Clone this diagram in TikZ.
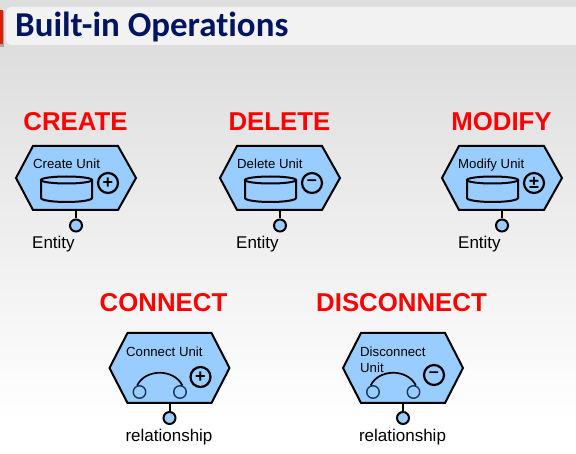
\documentclass[tikz,border=0pt]{standalone}
\usepackage{fontspec}
\setmainfont{Liberation Sans}
\newfontfamily\titlefont[Ligatures=NoCommon]{Carlito}
\definecolor{unitblue}{HTML}{99CCFF}
\definecolor{pinblue}{HTML}{17375E}
\definecolor{titlenavy}{HTML}{001460}
\definecolor{slidegrey}{HTML}{DEDEDE}
\tikzset{
    unitbox/.style={draw=black, fill=unitblue, line width=2pt, line join=miter},
    unitlabel/.style={anchor=base west, inner sep=0pt, align=left, font=\fontsize{13.2}{16.5}\selectfont},
    oplabel/.style={text=red, inner sep=0pt, font=\fontsize{25.8}{25.8}\selectfont\bfseries},
    paramlabel/.style={inner sep=0pt, font=\fontsize{17}{17}\selectfont},
    pin/.style={circle, draw=black, fill=unitblue, line width=2pt, minimum size=12pt, inner sep=0pt},
    signbox/.style={circle, draw=black, line width=2.2pt, minimum size=20pt, inner sep=0pt, font=\fontsize{18}{18}\selectfont\bfseries},
    endcircle/.style={circle, draw=pinblue, line width=1.4pt, minimum size=12.5pt, inner sep=0pt}
}
\begin{document}
\begin{tikzpicture}[x=1pt, y=-1pt]
    \useasboundingbox (0, 0) rectangle (576, 454);
    % slide background
    \fill[slidegrey] (0, 0) rectangle (576, 50);
    \shade[top color=slidegrey, bottom color=white] (0, 50) rectangle (576, 420);
    \fill[white] (0, 420) rectangle (576, 454);
    \fill[black!35] (0, 11) rectangle (4, 47);
    \fill[red!70!orange!85!black] (0, 10) rectangle (2.5, 44);
    \fill[black!5, rounded corners=5pt] (6, 7) rectangle (590, 45);
    \node[anchor=west, inner sep=0pt, text=titlenavy, font=\titlefont\fontsize{34.9}{34.9}\selectfont\bfseries] (title) at (15, 27) {Built-in Operations};
    % units with a database
    \foreach \name/\cx/\op/\lab/\sign/\lx in {create/76/CREATE/Create Unit/+/33, delete/280/DELETE/Delete Unit/–/237, modify/502/MODIFY/Modify Unit/±/458} {
        \draw[unitbox] (\cx-60, 178) -- (\cx-43, 146) -- (\cx+42, 146) -- (\cx+60, 178) -- (\cx+42, 210) -- (\cx-43, 210) -- cycle;
        \coordinate (\name-foot) at (\cx, 210);
        \node[oplabel] (\name-op) at (\cx-0.5, 122) {\op};
        \node[unitlabel] (\name-unit) at (\lx, 168.2) {\lab};
        \draw[line width=2pt, fill=unitblue] (\cx-35, 180) -- (\cx-35, 198) arc[start angle=180, end angle=360, x radius=25.5, y radius=-4] -- (\cx+16, 180);
        \draw[line width=2pt, fill=unitblue] (\cx-9.5, 180) ellipse[x radius=25.5, y radius=3.5];
        \node[signbox] (\name-sign) at (\cx+32, 183) {\sign};
        \node[pin] (\name-pin) at (\cx, 225.5) {};
        \draw[line width=2pt] (\name-foot) -- (\name-pin);
        \node[anchor=west, paramlabel] (\name-param) at (\cx-44, 244.5) {Entity};
    }
    % units with a relationship
    \foreach \name/\cx/\op/\ox/\lab/\sign/\lx/\ly/\sx/\sy in {connect/169.5/CONNECT/-6/Connect Unit/+/126/356.2/31/377, disconnect/403/DISCONNECT/-1.5/{Disconnect\\Unit}/–/360/372.8/31/375} {
        \draw[unitbox] (\cx-60, 368) -- (\cx-42, 333) -- (\cx+42, 333) -- (\cx+60, 368) -- (\cx+42, 403) -- (\cx-42, 403) -- cycle;
        \coordinate (\name-foot) at (\cx, 403);
        \node[oplabel] (\name-op) at (\cx+\ox, 303) {\op};
        \node[unitlabel] (\name-unit) at (\lx, \ly) {\lab};
        \node[endcircle] (\name-left) at (\cx-30, 392) {};
        \node[endcircle] (\name-right) at (\cx+10.5, 392) {};
        \draw[line width=1.7pt] (\name-left.110) .. controls (\cx-24, 368.5) and (\cx+4.5, 368.5) .. (\name-right.70);
        \node[signbox] (\name-sign) at (\cx+\sx, \sy) {\sign};
        \node[pin] (\name-pin) at (\cx, 418) {};
        \draw[line width=2pt] (\name-foot) -- (\name-pin);
        \node[paramlabel] (\name-param) at (\cx-0.5, 437) {relationship};
    }
\end{tikzpicture}
\end{document}
